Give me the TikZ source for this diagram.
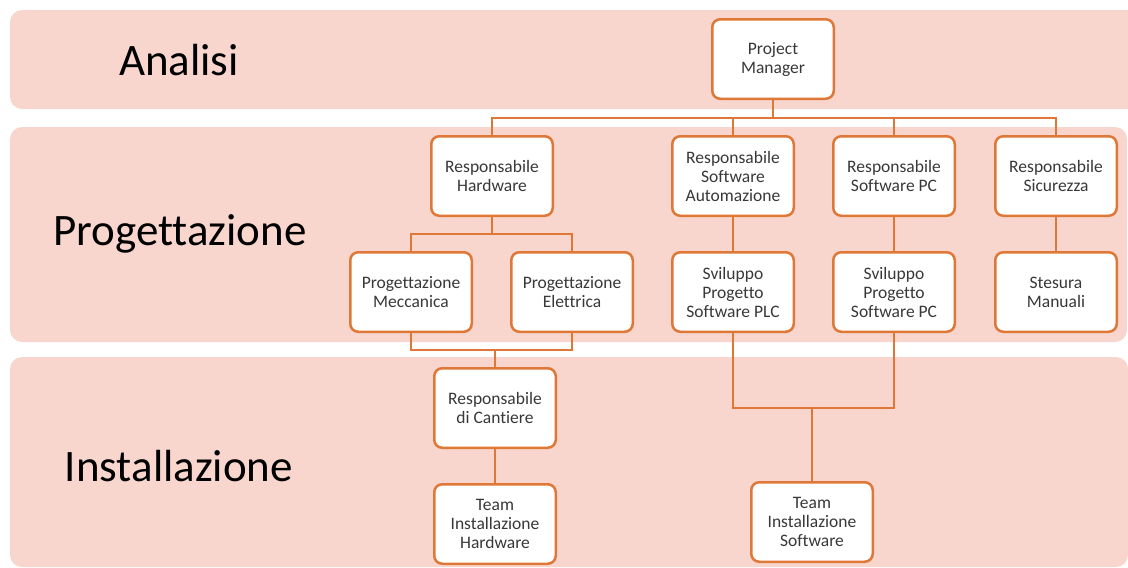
\documentclass[tikz,border=0pt]{standalone}
\usepackage{fontspec}
\setmainfont{Carlito}[Ligatures=NoCommon]
\definecolor{bandpink}{HTML}{F8D6CD}
\definecolor{lineorange}{HTML}{DF7737}
\definecolor{boxtext}{HTML}{383838}
\tikzset{
  band/.style={fill=bandpink, rounded corners=12pt},
  phase/.style={font=\fontsize{45}{50}\selectfont, text=black},
  role/.style={draw=lineorange, line width=2.5pt, fill=white, rounded corners=8pt,
    minimum width=121.5pt, minimum height=79.5pt, inner sep=1pt, align=center,
    text=boxtext, font=\fontsize{17.5}{19}\selectfont},
  link/.style={draw=lineorange, line width=2.6pt}
}
\begin{document}
\begin{tikzpicture}[x=1pt,y=-1pt]
\useasboundingbox (0,0) rectangle (1128,568);

% phase bands
\fill[band] (10,10) rectangle (1160,109);
\fill[band] (10,127) rectangle (1127,342);
\fill[band] (10,357) rectangle (1128,567);

\node[phase] (analisi) at (179,60) {Analisi};
\node[phase] (progettazione) at (180,234) {Progettazione};
\node[phase] (installazione) at (179,466) {Installazione};

% roles
\node[role] (pm)   at (773,59)  {Project\\Manager};
\node[role] (rhw)  at (492,176) {Responsabile\\Hardware};
\node[role] (rsa)  at (733,176) {Responsabile\\Software\\Automazione};
\node[role] (rspc) at (894,176) {Responsabile\\Software PC};
\node[role] (rsic) at (1056,176) {Responsabile\\Sicurezza};
\node[role] (pmec) at (411,292) {Progettazione\\Meccanica};
\node[role] (pel)  at (572,292) {Progettazione\\Elettrica};
\node[role] (splc) at (733,292) {Sviluppo\\Progetto\\Software PLC};
\node[role] (spc)  at (894,292) {Sviluppo\\Progetto\\Software PC};
\node[role] (stes) at (1056,292) {Stesura\\Manuali};
\node[role] (rcan) at (495,408) {Responsabile\\di Cantiere};
\node[role] (thw)  at (495,524) {Team\\Installazione\\Hardware};
\node[role] (tsw)  at (812,522) {Team\\Installazione\\Software};

% bus levels
\coordinate (bus) at (0,118);
\coordinate (hwsplit) at (0,234);
\coordinate (hwmerge) at (0,350);
\coordinate (swmerge) at (0,408);

% connectors
\draw[link] (pm.south) -- (pm.south |- bus);
\draw[link] (rhw.north) -- (rhw.north |- bus) -- (rsic.north |- bus) -- (rsic.north);
\draw[link] (rsa.north) -- (rsa.north |- bus);
\draw[link] (rspc.north) -- (rspc.north |- bus);

\draw[link] (rhw.south) -- (rhw.south |- hwsplit);
\draw[link] (pmec.north) -- (pmec.north |- hwsplit) -- (pel.north |- hwsplit) -- (pel.north);
\draw[link] (pmec.south) -- (pmec.south |- hwmerge) -- (pel.south |- hwmerge) -- (pel.south);
\draw[link] (rcan.north) -- (rcan.north |- hwmerge);
\draw[link] (rcan.south) -- (thw.north);

\draw[link] (rsa.south) -- (splc.north);
\draw[link] (rspc.south) -- (spc.north);
\draw[link] (rsic.south) -- (stes.north);

\draw[link] (splc.south) -- (splc.south |- swmerge) -- (spc.south |- swmerge) -- (spc.south);
\draw[link] (tsw.north) -- (tsw.north |- swmerge);
\end{tikzpicture}
\end{document}
